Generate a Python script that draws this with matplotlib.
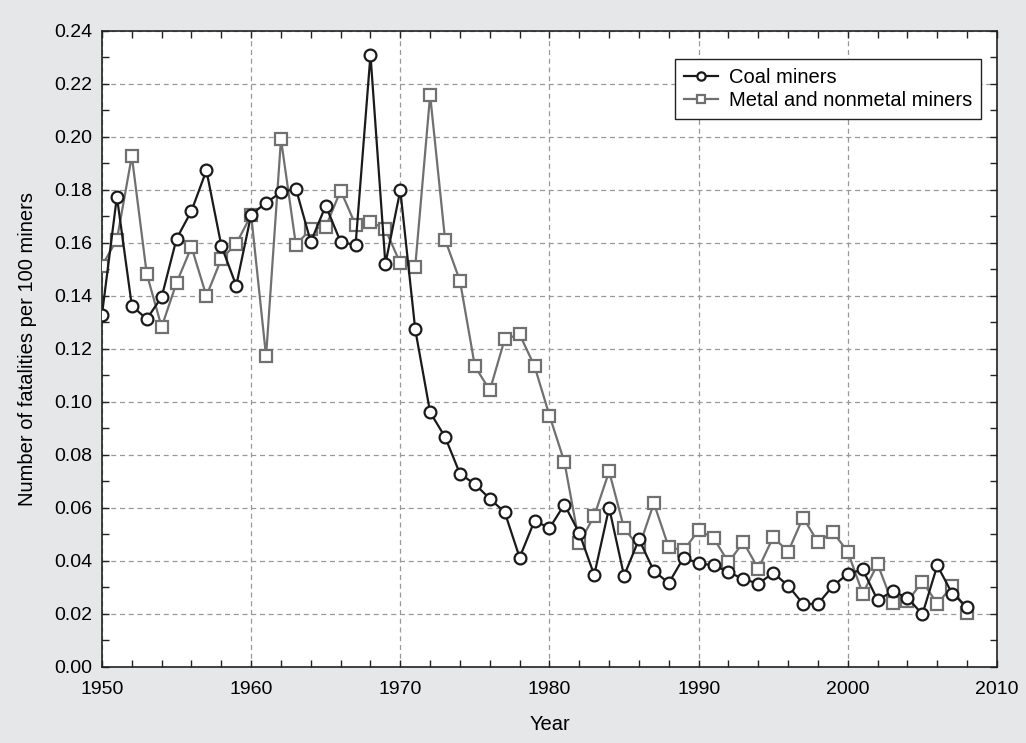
import matplotlib
matplotlib.use("Agg")
import matplotlib.pyplot as plt
from matplotlib.ticker import MultipleLocator, FormatStrFormatter

plt.rcParams['font.family'] = ['Liberation Sans', 'DejaVu Sans']

years = list(range(1950, 2009))

# fatalities per 100 miners
coal = [0.133, 0.1775, 0.1363, 0.1313, 0.1396, 0.1616, 0.1721, 0.1874, 0.159, 0.1439,
        0.1707, 0.1752, 0.1791, 0.1805, 0.1604, 0.1741, 0.1604, 0.1592, 0.231, 0.1521,
        0.1799, 0.1274, 0.0961, 0.0868, 0.0729, 0.069, 0.0635, 0.0584, 0.0413, 0.0552,
        0.0524, 0.0613, 0.0505, 0.0347, 0.0601, 0.0344, 0.0482, 0.0362, 0.0317, 0.0413,
        0.0391, 0.0384, 0.0358, 0.0332, 0.0314, 0.0355, 0.0307, 0.0238, 0.0238, 0.0306,
        0.0351, 0.0368, 0.0252, 0.0286, 0.0261, 0.0199, 0.0383, 0.0277, 0.0227]

metal = [0.1514, 0.1613, 0.1928, 0.1484, 0.1283, 0.145, 0.1585, 0.140, 0.154, 0.1597,
         0.1706, 0.1172, 0.1992, 0.1593, 0.1653, 0.1661, 0.1798, 0.1668, 0.168, 0.1652,
         0.1523, 0.1511, 0.2158, 0.1613, 0.1457, 0.1135, 0.1044, 0.1237, 0.1255, 0.1135,
         0.0949, 0.0774, 0.0468, 0.057, 0.0738, 0.0524, 0.0452, 0.0618, 0.0451, 0.0441,
         0.0516, 0.0487, 0.0395, 0.0471, 0.0371, 0.049, 0.0435, 0.0564, 0.0471, 0.0509,
         0.0435, 0.0277, 0.0388, 0.0240, 0.0248, 0.0322, 0.0239, 0.0305, 0.0203]

bg = "#e6e7e8"
fig = plt.figure(figsize=(10.26, 7.43), dpi=100, facecolor=bg)
ax = fig.add_axes([0.0994, 0.1023, 0.8723, 0.856])

ax.plot(years, metal, color="#707070", lw=1.6, marker="s", ms=8.5,
        mfc="white", mec="#707070", mew=1.6, label="Metal and nonmetal miners", zorder=3)
ax.plot(years, coal, color="#1a1a1a", lw=1.6, marker="o", ms=8.5,
        mfc="white", mec="#1a1a1a", mew=1.6, label="Coal miners", zorder=4)

ax.set_xlim(1950, 2010)
ax.set_ylim(0, 0.24)
ax.xaxis.set_major_locator(MultipleLocator(10))
ax.xaxis.set_minor_locator(MultipleLocator(2))
ax.yaxis.set_major_locator(MultipleLocator(0.02))
ax.yaxis.set_minor_locator(MultipleLocator(0.01))
ax.yaxis.set_major_formatter(FormatStrFormatter("%.2f"))

ax.tick_params(which="both", direction="in", top=True, right=True, labelsize=14,
               width=1.0, color="#222222", length=5)
ax.tick_params(axis="y", pad=7)
ax.tick_params(axis="x", pad=10)

ax.grid(True, which="major", ls=(0, (4, 3)), color="#999999", lw=0.9)
for s in ax.spines.values():
    s.set_linewidth(1.2)
    s.set_color("#222222")

ax.set_xlabel("Year", fontsize=14.5, labelpad=12)
ax.set_ylabel("Number of fatalities per 100 miners", fontsize=14.5, labelpad=12)

h, l = ax.get_legend_handles_labels()
leg = ax.legend(h[::-1], l[::-1], loc="upper right", bbox_to_anchor=(0.982, 0.956),
                borderaxespad=0, fontsize=14.5, fancybox=False, framealpha=1,
                edgecolor="#222222", markerscale=0.7, handlelength=1.7,
                handletextpad=0.5, labelspacing=0.2, borderpad=0.45)
leg.get_frame().set_linewidth(1.0)

plt.savefig("out.png", dpi=100, facecolor=bg)
